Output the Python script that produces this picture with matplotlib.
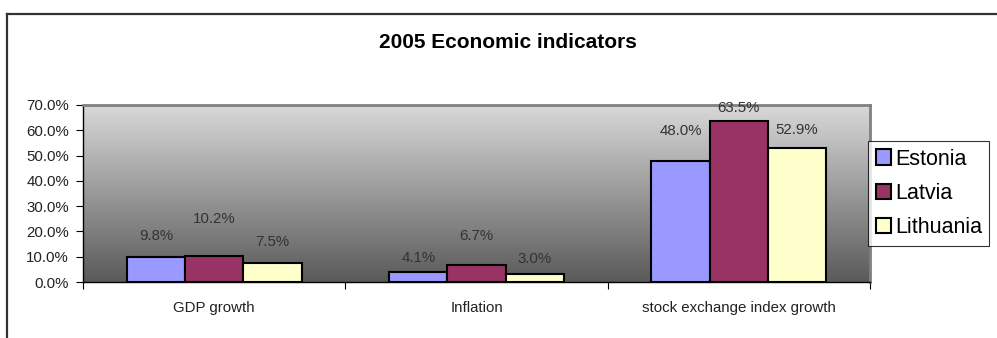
import numpy as np
import matplotlib.pyplot as plt
from matplotlib.lines import Line2D
from matplotlib.patches import Patch

# data
categories = ['GDP growth', 'Inflation', 'stock exchange index growth']
countries = ['Estonia', 'Latvia', 'Lithuania']
estonia = [9.8, 4.1, 48.0]
latvia = [10.2, 6.7, 63.5]
lithuania = [7.5, 3.0, 52.9]
series = [estonia, latvia, lithuania]
y_ticks = [0, 10, 20, 30, 40, 50, 60, 70]

# styling
colors = ['#9999FF', '#993366', '#FFFFCC']
# label offsets above bar tops (points), Excel placed them unevenly
label_offsets = [[15, 27, 15], [10, 21, 11], [21, 10, 13]]

plt.rcParams['font.family'] = ['Liberation Sans', 'DejaVu Sans']

fig = plt.figure(figsize=(9.97, 3.38), dpi=100)
W, H = 997, 338
ax = fig.add_axes([83 / W, (H - 282) / H, (870 - 83) / W, (282 - 105) / H])

# outer frame (top and left only visible)
fig.add_artist(Line2D([7 / W, 1], [(H - 14) / H] * 2, color='#333333', lw=1.6,
                      transform=fig.transFigure))
fig.add_artist(Line2D([7 / W] * 2, [0, (H - 14) / H], color='#333333', lw=1.6,
                      transform=fig.transFigure))

# gradient plot background
grad = np.linspace(0, 1, 256).reshape(-1, 1)
top, bot = np.array([0xd9, 0xd9, 0xd9]) / 255, np.array([0x5a, 0x5a, 0x5a]) / 255
img = top + (bot - top) * grad[:, :, None] * np.ones((1, 2, 1))
ax.imshow(img, extent=[0, 3, 0, 70], origin='upper', aspect='auto', zorder=0)

x = np.arange(len(categories)) + 0.5
bw = 1 / 4.5
for i, (vals, c) in enumerate(zip(series, colors)):
    pos = x + (i - 1) * bw
    ax.bar(pos, vals, width=bw, color=c, edgecolor='black', linewidth=1.5,
           label=countries[i], zorder=2)
    for j, v in enumerate(vals):
        ax.annotate(f'{v:.1f}%', (pos[j], v), xytext=(0, label_offsets[j][i]),
                    textcoords='offset points', ha='center', va='center',
                    fontsize=10.8, color='#333333')

ax.set_xlim(0, 3)
ax.set_ylim(0, 70)
ax.set_yticks(y_ticks)
ax.set_yticklabels([f'{t:.1f}%' for t in y_ticks], fontsize=10.8, color='#222222')
ax.set_xticks([0, 1, 2, 3])
ax.set_xticklabels([])
ax.set_xticks(x, minor=True)
ax.set_xticklabels(categories, minor=True, fontsize=10.8, color='#222222')
ax.tick_params(axis='x', which='minor', length=0, pad=14)
ax.tick_params(axis='x', which='major', length=5, direction='out', color='black')
ax.tick_params(axis='y', length=5, direction='out', pad=5)

for s in ['left', 'bottom']:
    ax.spines[s].set_color('black')
    ax.spines[s].set_linewidth(1.0)
for s in ['top', 'right']:
    ax.spines[s].set_color('#808080')
    ax.spines[s].set_linewidth(2.0)

fig.text(508 / W, (H - 42) / H, '2005 Economic indicators', ha='center',
         va='center', fontsize=15, fontweight='bold')

handles = [Patch(facecolor=c, edgecolor='black', linewidth=1.5) for c in colors]
leg = fig.legend(handles, countries, loc='upper left',
                 bbox_to_anchor=(868 / W, (H - 141) / H), fontsize=15.5,
                 frameon=True, fancybox=False, borderpad=0.35, labelspacing=0.62,
                 handlelength=0.7, handleheight=0.7, handletextpad=0.2,
                 borderaxespad=0)
leg.get_frame().set_edgecolor('black')
leg.get_frame().set_linewidth(0.8)

fig.savefig('out.png', dpi=100)
